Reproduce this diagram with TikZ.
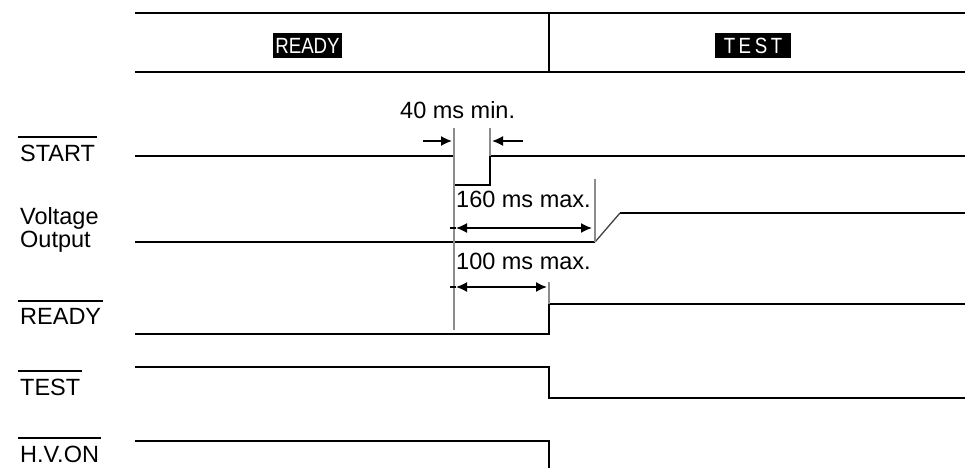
\documentclass[tikz,border=0pt]{standalone}
\usepackage{fontspec}
\usepackage{graphicx}
\setmainfont{Liberation Sans}
\usetikzlibrary{arrows.meta}
\begin{document}
\begin{tikzpicture}[x=1pt,y=-1pt,
  sig/.style={line width=2pt, line join=miter, line cap=butt},
  guide/.style={line width=1.2pt, draw=black!45},
  lbl/.style={inner sep=0pt, anchor=base west, font=\fontsize{23.5}{23}\selectfont},
  ovl/.style={line width=2pt},
  dimline/.style={line width=1.6pt},
  tip/.style={line width=1.6pt, -{Latex[length=11pt,width=10pt]}},
  dbl/.style={line width=1.6pt, {Latex[length=11pt,width=10pt]}-{Latex[length=11pt,width=10pt]}},
  hdr/.style={fill=black, text=white, inner sep=0pt, minimum height=25pt, font=\fontsize{22}{22}\selectfont}
]
\useasboundingbox (0,0) rectangle (969,468);

% header
\coordinate (hTL) at (135,13);
\coordinate (hTR) at (965,13);
\coordinate (hBL) at (135,72);
\coordinate (hBR) at (965,72);
\coordinate (hDT) at (549,13);
\coordinate (hDB) at (549,72);
\draw[sig] (hTL) -- (hTR);
\draw[sig] (hBL) -- (hBR);
\draw[sig] (hDT) -- (hDB);
\node[hdr, minimum width=69pt] (hready) at (307.5,45.5) {\scalebox{0.85}[1]{READY}};
\node[hdr, minimum width=76pt] (htest) at (753,45.5) {\scalebox{0.85}[1]{\addfontfeature{LetterSpace=19}TEST}};

% labels
\node[lbl] (lstart) at (20,161) {START};
\node[lbl] (lvolt) at (20,224) {Voltage};
\node[lbl] (lout) at (20,247) {Output};
\node[lbl] (lready) at (20,324) {READY};
\node[lbl] (ltest) at (20,395) {TEST};
\node[lbl] (lhv) at (20,462) {H.V.ON};
\foreach \n in {lstart,lready,ltest,lhv}
  \draw[ovl] ([xshift=-2pt,yshift=7pt]\n.north west) -- ([xshift=2pt,yshift=7pt]\n.north east);

% signals
\draw[sig] (135,156) -- (454,156) -- (454,185) -- (490,185) -- (490,156) -- (965,156);
\draw[sig] (135,242) -- (595,242);
\draw[line width=1.3pt, black!75] (595,242) -- (620,213);
\draw[sig] (620,213) -- (965,213);
\draw[sig] (135,334) -- (549,334) -- (549,304) -- (965,304);
\draw[sig] (135,367) -- (549,367) -- (549,398) -- (965,398);
\draw[sig] (135,441) -- (549,441) -- (549,470);

% guides
\coordinate (g1t) at (454,128);
\coordinate (g1b) at (454,330);
\coordinate (g2t) at (490,128);
\coordinate (g2b) at (490,156);
\coordinate (g3t) at (595,179);
\coordinate (g3b) at (595,242);
\coordinate (g4t) at (549,282);
\coordinate (g4b) at (549,304);
\draw[guide] (g1t) -- (g1b);
\draw[guide] (g2t) -- (g2b);
\draw[guide] (g3t) -- (g3b);
\draw[guide] (g4t) -- (g4b);

% 40 ms min.
\node[lbl] (t40) at (400,119) {40 ms min.};
\coordinate (a1s) at (423,141);
\coordinate (a1e) at (452,141);
\coordinate (a2s) at (523,141);
\coordinate (a2e) at (492,141);
\draw[tip] (a1s) -- (a1e);
\draw[tip] (a2s) -- (a2e);

% 160 ms max.
\node[lbl] (t160) at (456,207) {160 ms max.};
\coordinate (b1l) at (450,228);
\coordinate (b1a) at (456,228);
\coordinate (b1r) at (592,228);
\draw[dimline] (b1l) -- (b1a);
\draw[dbl] (b1a) -- (b1r);

% 100 ms max.
\node[lbl] (t100) at (456,269) {100 ms max.};
\coordinate (c1l) at (450,287);
\coordinate (c1a) at (456,287);
\coordinate (c1r) at (547,287);
\draw[dimline] (c1l) -- (c1a);
\draw[dbl] (c1a) -- (c1r);
\end{tikzpicture}
\end{document}
